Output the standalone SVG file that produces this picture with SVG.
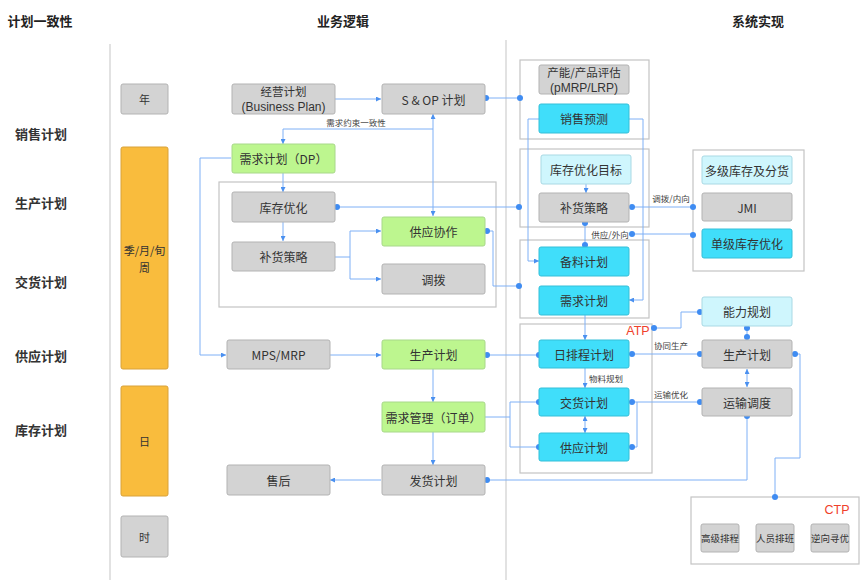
<svg xmlns="http://www.w3.org/2000/svg" width="865" height="586" viewBox="0 0 865 586">
<style>
text{font-family:"Noto Sans CJK SC","Liberation Sans",sans-serif;fill:#333;dominant-baseline:central;text-anchor:middle}
.h{font-size:13px;font-weight:bold;fill:#222}
.side{font-size:13px;font-weight:bold;fill:#333;text-anchor:start}
.t{font-size:12px}
.t2{font-size:11.5px}
.lat{font-size:12px;font-family:"Liberation Sans","Noto Sans CJK SC",sans-serif}
.ts{font-size:11px}
.lbl{font-size:8.5px;fill:#444}
.sm{font-size:9.5px;fill:#333}
.red{font-size:12.5px;fill:#f0402a;font-family:"Liberation Sans",sans-serif}
.gray{fill:#d3d3d3;stroke:#b3b3b3;stroke-width:1}
.green{fill:#bdf68f;stroke:#a8d88a;stroke-width:1}
.cyan{fill:#40defa;stroke:#34bfd8;stroke-width:1}
.lcyan{fill:#cff6fd;stroke:#a9d9e4;stroke-width:1}
.orange{fill:#f9bc3d;stroke:#d9a23a;stroke-width:1}
.grp{fill:none;stroke:#c4c4c4;stroke-width:1.2}
.sep{stroke:#cfcfcf;stroke-width:1.2;fill:none}
.c{fill:none;stroke:#7fb0f6;stroke-width:1}
.dot{fill:#3f8cf2}
</style>
<defs>
<marker id="ar" viewBox="0 0 6 6" refX="6" refY="3" markerWidth="5" markerHeight="5" orient="auto-start-reverse">
<path d="M0,0 L6,3 L0,6 z" fill="#4a90f0"/>
</marker>
</defs>
<rect width="865" height="586" fill="#fff"/>

<g id="headers">
<text class="h" x="40" y="20">计划一致性</text>
<text class="h" x="343" y="20">业务逻辑</text>
<text class="h" x="758" y="20">系统实现</text>
<text class="side" x="15" y="133">销售计划</text>
<text class="side" x="15" y="202">生产计划</text>
<text class="side" x="15" y="281">交货计划</text>
<text class="side" x="15" y="355">供应计划</text>
<text class="side" x="15" y="429">库存计划</text>
<line class="sep" x1="110" y1="44" x2="110" y2="580"/>
<line class="sep" x1="506" y1="40" x2="506" y2="580"/>
</g>

<g id="time-year"><rect class="gray" x="121" y="84" width="47" height="30" rx="2"/><text class="ts" x="144.5" y="99">年</text></g>
<g id="time-season"><rect class="orange" x="121" y="147" width="47" height="222" rx="2"/><text class="ts" x="144.5" y="250">季/月/旬</text><text class="ts" x="144.5" y="267">周</text></g>
<g id="time-day"><rect class="orange" x="121" y="386" width="47" height="110" rx="2"/><text class="ts" x="144.5" y="441">日</text></g>
<g id="time-hour"><rect class="gray" x="121" y="516" width="47" height="41" rx="2"/><text class="ts" x="144.5" y="537">时</text></g>

<g id="groups">
<rect class="grp" x="219" y="182" width="277" height="125"/>
<rect class="grp" x="520" y="60" width="129" height="79"/>
<rect class="grp" x="520" y="149" width="129" height="78"/>
<rect class="grp" x="520" y="240" width="129" height="78"/>
<rect class="grp" x="520" y="324" width="132" height="149"/>
<rect class="grp" x="693" y="150" width="111" height="121"/>
<rect class="grp" x="691" y="497" width="168" height="67"/>
<text class="red" x="638" y="331">ATP</text>
<text class="red" x="837" y="510">CTP</text>
</g>

<g id="connectors">
<path class="c" d="M335,99 H381" marker-end="url(#ar)"/>
<path class="c" d="M433,216 V114" marker-start="url(#ar)" marker-end="url(#ar)"/>
<path class="c" d="M433,129 H283 V144" marker-end="url(#ar)"/>
<text class="lbl" x="356" y="122">需求约束一致性</text>
<path class="c" d="M283,173 V192" marker-end="url(#ar)"/>
<path class="c" d="M283,222 V241" marker-end="url(#ar)"/>
<path class="c" d="M335,257 H350 V231 H381" marker-end="url(#ar)"/>
<path class="c" d="M350,257 V279 H381" marker-end="url(#ar)"/>
<path class="c" d="M231,158 H200 V355 H226" marker-end="url(#ar)"/>
<path class="c" d="M485,98 H520"/>
<circle class="dot" cx="486" cy="98" r="3"/><circle class="dot" cx="520" cy="98" r="3"/>
<path class="c" d="M335,207 H519"/>
<circle class="dot" cx="337" cy="207" r="3"/><circle class="dot" cx="519" cy="207" r="3"/>
<path class="c" d="M485,231 H493 V286 H519"/>
<circle class="dot" cx="487" cy="231" r="3"/><circle class="dot" cx="519" cy="286" r="3"/>
<path class="c" d="M330,355 H381" marker-end="url(#ar)"/>
<path class="c" d="M433,369 V402" marker-end="url(#ar)"/>
<path class="c" d="M433,432 V465" marker-end="url(#ar)"/>
<path class="c" d="M381,480 H330" marker-end="url(#ar)"/>
<path class="c" d="M485,355 H539"/>
<circle class="dot" cx="487" cy="355" r="3"/><circle class="dot" cx="539" cy="355" r="3"/>
<path class="c" d="M485,417 H510 V402 H539 M510,417 V447 H539"/>
<circle class="dot" cx="539" cy="402" r="3"/><circle class="dot" cx="539" cy="447" r="3"/>
<path class="c" d="M485,480 H747 V416"/>
<circle class="dot" cx="487" cy="480" r="3"/><circle class="dot" cx="747" cy="416" r="3"/>
<path class="c" d="M539,119 H528 V261 H539" marker-end="url(#ar)"/>
<path class="c" d="M629,119 H643 V300 H629" marker-end="url(#ar)"/>
<path class="c" d="M586,184 V193" marker-end="url(#ar)"/>
<path class="c" d="M585,222 V245"/>
<circle class="dot" cx="585" cy="223" r="3"/><circle class="dot" cx="585" cy="245" r="3"/>
<path class="c" d="M629,207 H693"/>
<circle class="dot" cx="632" cy="207" r="3"/><circle class="dot" cx="693" cy="207" r="3"/>
<text class="lbl" x="671" y="198">调拨/内向</text>
<path class="c" d="M632,234 H693"/>
<circle class="dot" cx="632" cy="234" r="3"/><circle class="dot" cx="693" cy="235" r="3"/>
<text class="lbl" x="610" y="234">供应/外向</text>
<path class="c" d="M585,315 V340" marker-end="url(#ar)"/>
<path class="c" d="M585,368 V388" marker-end="url(#ar)"/>
<text class="lbl" x="606" y="378">物料规划</text>
<path class="c" d="M585,416 V433" marker-start="url(#ar)" marker-end="url(#ar)"/>
<path class="c" d="M629,354 H702"/>
<circle class="dot" cx="632" cy="354" r="3"/><circle class="dot" cx="700" cy="354" r="3"/>
<text class="lbl" x="671" y="345">协同生产</text>
<path class="c" d="M629,402 H702 M637,402 V447 H629"/>
<circle class="dot" cx="632" cy="402" r="3"/><circle class="dot" cx="700" cy="402" r="3"/><circle class="dot" cx="632" cy="447" r="3"/>
<text class="lbl" x="671" y="394">运输优化</text>
<path class="c" d="M652,328 H681 V312 H700"/>
<circle class="dot" cx="654" cy="328" r="3"/><circle class="dot" cx="700" cy="312" r="3"/>
<path class="c" d="M747,328 V337"/>
<circle class="dot" cx="747" cy="328" r="3"/><circle class="dot" cx="747" cy="337" r="3"/>
<path class="c" d="M747,369 V387" marker-start="url(#ar)" marker-end="url(#ar)"/>
<path class="c" d="M792,354 H800 V458 H775 V497"/>
<circle class="dot" cx="795" cy="354" r="3"/><circle class="dot" cx="775" cy="497" r="3"/>
</g>

<g id="n-bp"><rect class="gray" x="232" y="84" width="103" height="30" rx="2"/><text class="t2" x="283.5" y="91">经营计划</text><text class="lat" x="283.5" y="106.5">(Business Plan)</text></g>
<g id="n-sop"><rect class="gray" x="382" y="84" width="103" height="30" rx="2"/><text class="t" x="433.5" y="99">S &amp; OP 计划</text></g>
<g id="n-dp"><rect class="green" x="232" y="144" width="103" height="29" rx="2"/><text class="t" x="283.5" y="158.5">需求计划（DP）</text></g>
<g id="n-invopt"><rect class="gray" x="232" y="192" width="103" height="30" rx="2"/><text class="t" x="283.5" y="207">库存优化</text></g>
<g id="n-repl"><rect class="gray" x="232" y="242" width="103" height="29" rx="2"/><text class="t" x="283.5" y="256.5">补货策略</text></g>
<g id="n-supcol"><rect class="green" x="382" y="217" width="103" height="29" rx="2"/><text class="t" x="433.5" y="231.5">供应协作</text></g>
<g id="n-transfer"><rect class="gray" x="382" y="264" width="103" height="30" rx="2"/><text class="t" x="433.5" y="279">调拨</text></g>
<g id="n-mps"><rect class="gray" x="227" y="340" width="103" height="29" rx="2"/><text class="t" x="278.5" y="354.5">MPS/MRP</text></g>
<g id="n-prod"><rect class="green" x="382" y="340" width="103" height="29" rx="2"/><text class="t" x="433.5" y="354.5">生产计划</text></g>
<g id="n-order"><rect class="green" x="382" y="402" width="103" height="30" rx="2"/><text class="t" x="433.5" y="417">需求管理（订单）</text></g>
<g id="n-ship"><rect class="gray" x="382" y="465" width="103" height="30" rx="2"/><text class="t" x="433.5" y="480">发货计划</text></g>
<g id="n-after"><rect class="gray" x="227" y="465" width="103" height="30" rx="2"/><text class="t" x="278.5" y="480">售后</text></g>

<g id="s-cap"><rect class="gray" x="539" y="65" width="90" height="29" rx="2"/><text class="t2" x="584" y="72">产能/产品评估</text><text class="lat" x="584" y="87.5">(pMRP/LRP)</text></g>
<g id="s-fcst"><rect class="cyan" x="539" y="104" width="90" height="29" rx="2"/><text class="t" x="584" y="118.5">销售预测</text></g>
<g id="s-invtarget"><rect class="lcyan" x="541" y="155" width="90" height="29" rx="2"/><text class="t" x="586" y="169.5">库存优化目标</text></g>
<g id="s-repl"><rect class="gray" x="539" y="193" width="90" height="29" rx="2"/><text class="t" x="584" y="207.5">补货策略</text></g>
<g id="s-mat"><rect class="cyan" x="539" y="247" width="90" height="29" rx="2"/><text class="t" x="584" y="261.5">备料计划</text></g>
<g id="s-dem"><rect class="cyan" x="539" y="286" width="90" height="29" rx="2"/><text class="t" x="584" y="300.5">需求计划</text></g>
<g id="s-daily"><rect class="cyan" x="539" y="340" width="90" height="28" rx="2"/><text class="t" x="584" y="354">日排程计划</text></g>
<g id="s-deliv"><rect class="cyan" x="539" y="388" width="90" height="28" rx="2"/><text class="t" x="584" y="402">交货计划</text></g>
<g id="s-supply"><rect class="cyan" x="539" y="433" width="90" height="28" rx="2"/><text class="t" x="584" y="447">供应计划</text></g>
<g id="s-multi"><rect class="lcyan" x="702" y="156" width="90" height="28" rx="2"/><text class="t" x="747" y="170">多级库存及分货</text></g>
<g id="s-jmi"><rect class="gray" x="702" y="193" width="90" height="28" rx="2"/><text class="t" x="747" y="207">JMI</text></g>
<g id="s-single"><rect class="cyan" x="702" y="229" width="90" height="29" rx="2"/><text class="t" x="747" y="243.5">单级库存优化</text></g>
<g id="s-capplan"><rect class="lcyan" x="702" y="297" width="90" height="29" rx="2"/><text class="t" x="747" y="311.5">能力规划</text></g>
<g id="s-prod"><rect class="gray" x="702" y="340" width="90" height="28" rx="2"/><text class="t" x="747" y="354">生产计划</text></g>
<g id="s-trans"><rect class="gray" x="702" y="388" width="90" height="28" rx="2"/><text class="t" x="747" y="402">运输调度</text></g>
<g id="s-aps"><rect class="gray" x="701" y="524" width="38" height="28" rx="2"/><text class="sm" x="720" y="538">高级排程</text></g>
<g id="s-shift"><rect class="gray" x="756" y="524" width="38" height="28" rx="2"/><text class="sm" x="775" y="538">人员排班</text></g>
<g id="s-reverse"><rect class="gray" x="811" y="524" width="38" height="28" rx="2"/><text class="sm" x="830" y="538">逆向寻优</text></g>
</svg>
